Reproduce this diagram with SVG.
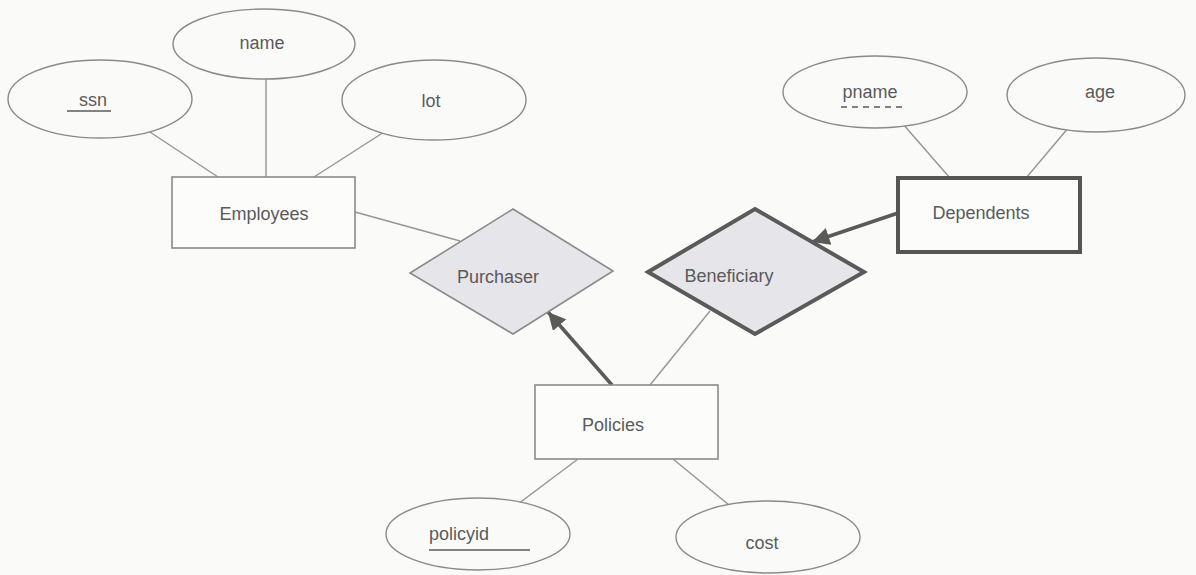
<svg xmlns="http://www.w3.org/2000/svg" width="1196" height="575" viewBox="0 0 1196 575">
<defs>
<style>
.attr{fill:#fafaf9;stroke:#8a8a8a;stroke-width:1.4}
.ent{fill:#fcfcfb;stroke:#8a8a8a;stroke-width:1.6}
.weak{fill:#fcfcfb;stroke:#555;stroke-width:4}
.rel{fill:#e6e5ea;stroke:#8a8a8a;stroke-width:1.6}
.wrel{fill:#e6e5ea;stroke:#5a5a5a;stroke-width:4}
.ln{stroke:#959595;stroke-width:1.4;fill:none}
.thick{stroke:#5a5a5a;stroke-width:3.5;fill:none}
.lbl{font-family:"Liberation Sans",Arial,sans-serif;font-size:18px;fill:#5a5a5a;text-anchor:middle}
.ul{stroke:#5a5a5a;stroke-width:1.4}
</style>
<marker id="ah" viewBox="0 0 10 10" refX="10" refY="5" markerWidth="5" markerHeight="5" markerUnits="strokeWidth" orient="auto">
<path d="M0,0 L10,5 L0,10 z" fill="#5a5a5a"/>
</marker>
</defs>
<rect width="1196" height="575" fill="#fafaf9"/>
<g id="connectors">
<line class="ln" x1="266" y1="79" x2="266" y2="177"/>
<line class="ln" x1="100" y1="99" x2="218" y2="177"/>
<line class="ln" x1="434" y1="100" x2="314" y2="177"/>
<line class="ln" x1="875" y1="92" x2="950" y2="178"/>
<line class="ln" x1="1096" y1="95" x2="1026" y2="178"/>
<line class="ln" x1="478" y1="534" x2="578" y2="459"/>
<line class="ln" x1="768" y1="537" x2="673" y2="459"/>
<line class="ln" x1="355" y1="212" x2="460" y2="241"/>
<line class="ln" x1="710" y1="311" x2="650" y2="385"/>
<line class="thick" x1="898" y1="213" x2="812" y2="242" marker-end="url(#ah)"/>
<line class="thick" x1="612" y1="385" x2="548" y2="312" marker-end="url(#ah)"/>
</g>
<g id="name"><ellipse class="attr" cx="264" cy="44" rx="91" ry="35"/><text class="lbl" x="262" y="49">name</text></g>
<g id="ssn"><ellipse class="attr" cx="100" cy="99" rx="92" ry="39"/><text class="lbl" x="93" y="106">ssn</text><line class="ul" x1="67" y1="111" x2="111" y2="111"/></g>
<g id="lot"><ellipse class="attr" cx="434" cy="100" rx="92" ry="40"/><text class="lbl" x="431" y="107">lot</text></g>
<g id="pname"><ellipse class="attr" cx="875" cy="92" rx="92" ry="36"/><text class="lbl" x="870" y="98">pname</text><line class="ul" x1="841" y1="107" x2="902" y2="107" stroke-dasharray="6,5"/></g>
<g id="age"><ellipse class="attr" cx="1096" cy="95" rx="89" ry="37"/><text class="lbl" x="1100" y="98">age</text></g>
<g id="policyid"><ellipse class="attr" cx="478" cy="534" rx="92" ry="36"/><text class="lbl" x="459" y="540">policyid</text><line class="ul" x1="429" y1="550" x2="530" y2="550"/></g>
<g id="cost"><ellipse class="attr" cx="768" cy="537" rx="92" ry="36"/><text class="lbl" x="762" y="549">cost</text></g>
<g id="Employees"><rect class="ent" x="172" y="177" width="183" height="71"/><text class="lbl" x="264" y="220">Employees</text></g>
<g id="Dependents"><rect class="weak" x="898" y="178" width="182" height="74"/><text class="lbl" x="981" y="219">Dependents</text></g>
<g id="Policies"><rect class="ent" x="535" y="385" width="183" height="74"/><text class="lbl" x="613" y="431">Policies</text></g>
<g id="Purchaser"><polygon class="rel" points="513,209 613,271 513,334 410,273"/><text class="lbl" x="498" y="283">Purchaser</text></g>
<g id="Beneficiary"><polygon class="wrel" points="755,209 864,272 755,334 648,272"/><text class="lbl" x="729" y="282">Beneficiary</text></g>
</svg>
